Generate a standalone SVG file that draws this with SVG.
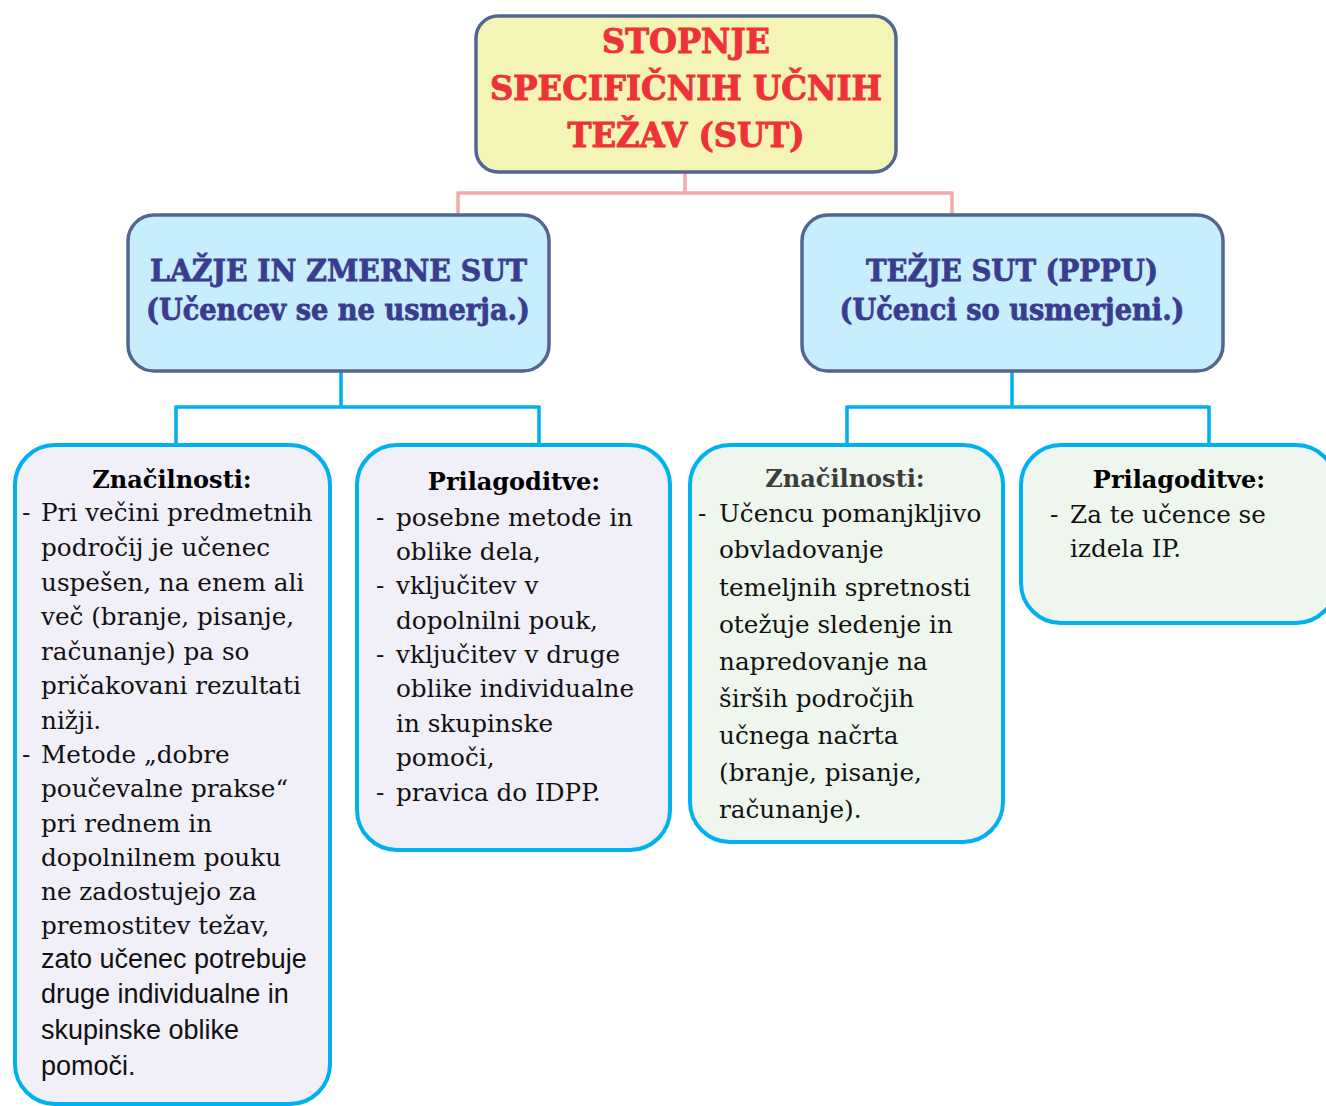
<svg xmlns="http://www.w3.org/2000/svg" width="1326" height="1106" viewBox="0 0 1326 1106">
<style>
.bg{fill:#ffffff}
.top{fill:#f4f4b6;stroke:#536590;stroke-width:3.5}
.mid{fill:#c6eefd;stroke:#536590;stroke-width:3.5}
.lav{fill:#f1eff7;stroke:#00b0f0;stroke-width:4}
.grn{fill:#eff6ee;stroke:#00b0f0;stroke-width:4}
.pink{fill:none;stroke:#f4a9ab;stroke-width:3.5}
.blue{fill:none;stroke:#00b0f0;stroke-width:3.5}
.title{font-family:"DejaVu Serif","Liberation Serif",serif;font-weight:bold;font-size:33px;fill:#ee3338;stroke:#ee3338;stroke-width:1;text-anchor:middle}
.mh{font-family:"DejaVu Serif","Liberation Serif",serif;font-weight:bold;font-size:30px;fill:#3a3c8f;stroke:#3a3c8f;stroke-width:0.8;text-anchor:middle}
.hd{font-family:"DejaVu Serif","Liberation Serif",serif;font-weight:bold;font-size:24px;fill:#000;text-anchor:middle}
.hdg{fill:#3d3d3d}
.b{font-family:"DejaVu Serif","Liberation Serif",serif;font-size:24.7px;fill:#111}
.s{font-family:"Liberation Sans","Arial",sans-serif;font-size:27px;fill:#111}
</style>
<rect class="bg" x="0" y="0" width="1326" height="1106"/>
<g id="connectors">
<path class="pink" d="M685,172 V193 M458,193 H952 M458,191.5 V215 M952,191.5 V215"/>
<path class="blue" d="M341,371 V407 M176,407 H539 M176,405.5 V445 M539,405.5 V445"/>
<path class="blue" d="M1012,371 V407 M847,407 H1209 M847,405.5 V445 M1209,405.5 V445"/>
</g>
<g id="n-title">
<rect class="top" x="476" y="16" width="420" height="156" rx="22"/>
<text class="title" x="686" y="53" textLength="168" lengthAdjust="spacingAndGlyphs">STOPNJE</text>
<text class="title" x="686" y="100" textLength="392" lengthAdjust="spacingAndGlyphs">SPECIFIČNIH UČNIH</text>
<text class="title" x="686" y="147" textLength="237" lengthAdjust="spacingAndGlyphs">TEŽAV (SUT)</text>
</g>
<g id="n-lazje">
<rect class="mid" x="128" y="215" width="421" height="156" rx="26"/>
<text class="mh" x="338.5" y="281" textLength="377" lengthAdjust="spacingAndGlyphs">LAŽJE IN ZMERNE SUT</text>
<text class="mh" x="338" y="320" textLength="384" lengthAdjust="spacingAndGlyphs">(Učencev se ne usmerja.)</text>
</g>
<g id="n-tezje">
<rect class="mid" x="802" y="215" width="421" height="156" rx="26"/>
<text class="mh" x="1012" y="281" textLength="292" lengthAdjust="spacingAndGlyphs">TEŽJE SUT (PPPU)</text>
<text class="mh" x="1012" y="320" textLength="345" lengthAdjust="spacingAndGlyphs">(Učenci so usmerjeni.)</text>
</g>
<g id="n-znacilnosti-1">
<rect class="lav" x="15" y="445" width="315" height="659" rx="40"/>
<text class="hd" x="172" y="488">Značilnosti:</text>
<text class="b" x="22" y="521">-</text>
<text class="b" x="41" y="521">Pri večini predmetnih</text>
<text class="b" x="41" y="556">področij je učenec</text>
<text class="b" x="41" y="591">uspešen, na enem ali</text>
<text class="b" x="41" y="625">več (branje, pisanje,</text>
<text class="b" x="41" y="660">računanje) pa so</text>
<text class="b" x="41" y="694">pričakovani rezultati</text>
<text class="b" x="41" y="729">nižji.</text>
<text class="b" x="22" y="763">-</text>
<text class="b" x="41" y="763">Metode „dobre</text>
<text class="b" x="41" y="797">poučevalne prakse“</text>
<text class="b" x="41" y="832">pri rednem in</text>
<text class="b" x="41" y="866">dopolnilnem pouku</text>
<text class="b" x="41" y="900">ne zadostujejo za</text>
<text class="b" x="41" y="934">premostitev težav,</text>
<text class="s" x="41" y="968">zato učenec potrebuje</text>
<text class="s" x="41" y="1003">druge individualne in</text>
<text class="s" x="41" y="1039">skupinske oblike</text>
<text class="s" x="41" y="1075">pomoči.</text>
</g>
<g id="n-prilagoditve-1">
<rect class="lav" x="357" y="445" width="313" height="405" rx="40"/>
<text class="hd" x="514" y="490">Prilagoditve:</text>
<text class="b" x="376" y="526">-</text>
<text class="b" x="396" y="526">posebne metode in</text>
<text class="b" x="396" y="560">oblike dela,</text>
<text class="b" x="376" y="594">-</text>
<text class="b" x="396" y="594">vključitev v</text>
<text class="b" x="396" y="629">dopolnilni pouk,</text>
<text class="b" x="376" y="663">-</text>
<text class="b" x="396" y="663">vključitev v druge</text>
<text class="b" x="396" y="697">oblike individualne</text>
<text class="b" x="396" y="732">in skupinske</text>
<text class="b" x="396" y="766">pomoči,</text>
<text class="b" x="376" y="801">-</text>
<text class="b" x="396" y="801">pravica do IDPP.</text>
</g>
<g id="n-znacilnosti-2">
<rect class="grn" x="690" y="445" width="313" height="397" rx="40"/>
<text class="hd hdg" x="845" y="487">Značilnosti:</text>
<text class="b" x="698" y="522">-</text>
<text class="b" x="719" y="522">Učencu pomanjkljivo</text>
<text class="b" x="719" y="558">obvladovanje</text>
<text class="b" x="719" y="596">temeljnih spretnosti</text>
<text class="b" x="719" y="633">otežuje sledenje in</text>
<text class="b" x="719" y="670">napredovanje na</text>
<text class="b" x="719" y="707">širših področjih</text>
<text class="b" x="719" y="744">učnega načrta</text>
<text class="b" x="719" y="781">(branje, pisanje,</text>
<text class="b" x="719" y="818">računanje).</text>
</g>
<g id="n-prilagoditve-2">
<rect class="grn" x="1021" y="445" width="315" height="178" rx="40"/>
<text class="hd" x="1179" y="488">Prilagoditve:</text>
<text class="b" x="1050" y="523">-</text>
<text class="b" x="1070" y="523">Za te učence se</text>
<text class="b" x="1070" y="557">izdela IP.</text>
</g>
</svg>
